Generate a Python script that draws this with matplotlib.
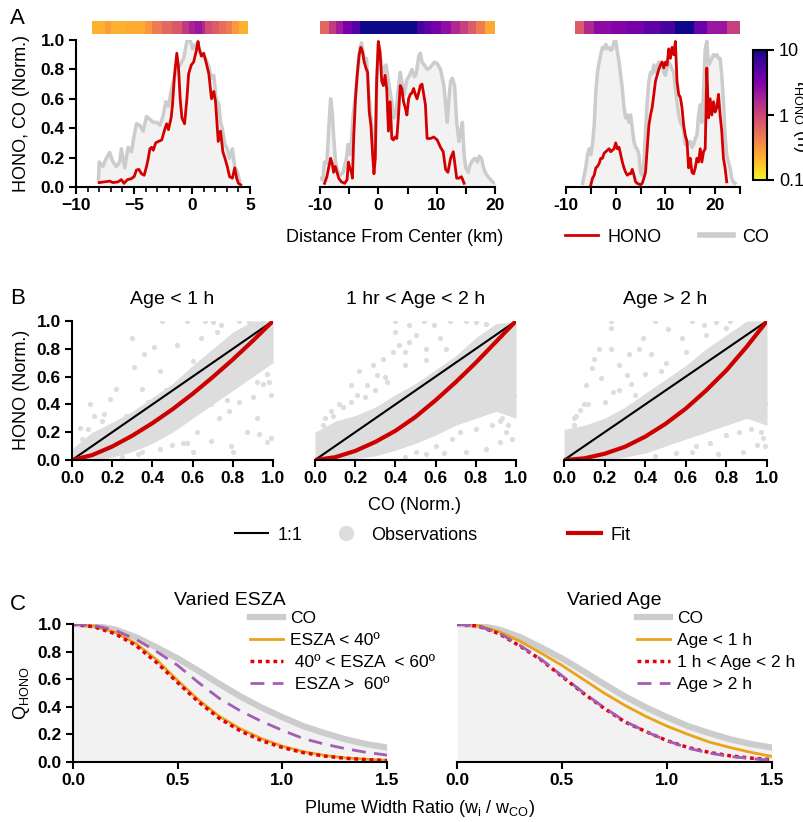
import numpy as np
import matplotlib
matplotlib.use('Agg')
import matplotlib.pyplot as plt
from matplotlib.colors import LogNorm
from matplotlib.cm import ScalarMappable
from matplotlib.lines import Line2D

plt.rcParams['font.family'] = ['Liberation Sans', 'DejaVu Sans']
plt.rcParams['mathtext.fontset'] = 'custom'
plt.rcParams['mathtext.rm'] = 'Liberation Sans'
plt.rcParams['mathtext.it'] = 'Liberation Sans:italic'

# ---------------- panel A: transects ----------------
a1_co_x = [-8.06, -8.0, -7.68, -7.39, -7.10, -6.81, -6.52, -6.23, -6.09, -5.80, -5.51, -5.22, -4.99, -4.79, -4.50,
           -4.21, -3.92, -3.63, -3.34, -3.05, -2.76, -2.47, -2.26, -2.03, -1.80, -1.60, -1.31, -1.02, -0.73, -0.44,
           -0.15, 0.05, 0.29, 0.58, 0.87, 1.16, 1.45, 1.68, 1.88, 2.08, 2.32, 2.46, 2.61, 2.84, 3.04, 3.24, 3.48,
           3.68, 3.91, 4.11]
a1_co_y = [0.05, 0.17, 0.14, 0.195, 0.235, 0.17, 0.14, 0.17, 0.26, 0.13, 0.27, 0.24, 0.35, 0.43, 0.42,
           0.38, 0.48, 0.46, 0.44, 0.44, 0.42, 0.49, 0.58, 0.55, 0.65, 0.72, 0.81, 0.83, 0.875, 0.99,
           1.0, 0.94, 0.97, 0.93, 0.90, 0.875, 0.82, 0.74, 0.76, 0.60, 0.56, 0.44, 0.40, 0.29, 0.26, 0.195, 0.26,
           0.14, 0.10, 0.04]
a1_hono_x = [-8.0, -7.54, -7.10, -6.81, -6.38, -6.09, -5.86, -5.57, -5.28, -4.99, -4.79, -4.58, -4.35, -4.12, -3.92,
             -3.77, -3.63, -3.48, -3.34, -3.13, -2.90, -2.61, -2.32, -2.18, -2.03, -1.80, -1.68, -1.51, -1.31, -1.16,
             -1.02, -0.87, -0.64, -0.44, -0.29, -0.06, 0.14, 0.35, 0.52, 0.63, 0.81, 1.01, 1.21, 1.45, 1.68, 1.88,
             2.03, 2.26, 2.46, 2.66, 2.84, 3.04, 3.24, 3.48, 3.68, 3.85, 4.00, 4.20]
a1_hono_y = [0.03, 0.035, 0.04, 0.03, 0.035, 0.05, 0.025, 0.05, 0.055, 0.07, 0.115, 0.12, 0.09, 0.08, 0.14,
             0.195, 0.26, 0.27, 0.25, 0.30, 0.31, 0.32, 0.40, 0.43, 0.39, 0.47, 0.56, 0.76, 0.91, 0.81,
             0.60, 0.47, 0.43, 0.60, 0.77, 0.83, 0.85, 0.92, 0.99, 0.94, 0.89, 0.91, 0.85, 0.77, 0.60, 0.65,
             0.58, 0.31, 0.38, 0.24, 0.195, 0.14, 0.07, 0.06, 0.13, 0.06, 0.025, 0.015]

a2_co_x = [-10.0, -9.51, -9.22, -8.82, -8.47, -8.18, -7.90, -7.67, -7.32, -6.92, -6.51, -6.05, -5.48, -5.19, -4.90,
           -4.61, -4.32, -3.86, -3.46, -3.17, -2.88, -2.59, -2.31, -2.02, -1.73, -1.44, -1.15, -0.86, -0.58, -0.29,
           0.0, 0.29, 0.58, 0.86, 1.33, 1.73, 2.02, 2.31, 2.71, 3.05, 3.46, 3.75, 4.03, 4.44, 4.90, 5.36, 5.76,
           6.17, 6.51, 6.92, 7.20, 7.49, 7.90, 8.36, 8.82, 9.22, 9.63, 10.09, 10.66, 11.24, 11.53, 11.82, 12.10,
           12.39, 12.68, 13.08, 13.43, 13.83, 14.12, 14.41, 14.70, 14.99, 15.39, 15.73, 16.14, 16.54, 17.00, 17.29,
           17.69, 18.04, 18.44, 19.02, 19.60, 20.06]
a2_co_y = [0.06, 0.05, 0.17, 0.16, 0.42, 0.60, 0.51, 0.35, 0.17, 0.10, 0.08, 0.10, 0.195, 0.29, 0.22,
           0.31, 0.49, 0.65, 0.83, 0.94, 0.98, 0.91, 0.85, 0.875, 0.67, 0.56, 0.42, 0.22, 0.195, 0.72,
           0.97, 0.90, 0.83, 0.78, 0.83, 0.72, 0.65, 0.58, 0.47, 0.51, 0.69, 0.78, 0.72, 0.63, 0.73, 0.76, 0.80,
           0.75, 0.77, 0.89, 0.91, 0.85, 0.83, 0.80, 0.81, 0.83, 0.85, 0.84, 0.80, 0.69, 0.56, 0.44, 0.60,
           0.72, 0.74, 0.69, 0.44, 0.31, 0.38, 0.44, 0.22, 0.13, 0.10, 0.15, 0.18, 0.195, 0.17, 0.21,
           0.195, 0.13, 0.09, 0.06, 0.035, 0.025]
a2_hono_x = [-9.22, -8.82, -8.47, -8.18, -7.90, -7.67, -7.38, -7.09, -6.80, -6.34, -5.76, -5.36, -5.13, -4.90, -4.61,
             -4.44, -4.21, -3.92, -3.63, -3.29, -3.00, -2.71, -2.42, -2.13, -1.84, -1.56, -1.27, -0.98, -0.75, -0.52,
             -0.29, 0.0, 0.29, 0.58, 0.86, 1.15, 1.44, 1.73, 2.02, 2.31, 2.59, 2.88, 3.17, 3.46, 3.75, 4.03, 4.32,
             4.61, 4.90, 5.19, 5.48, 5.76, 6.05, 6.34, 6.63, 6.92, 7.20, 7.49, 7.78, 8.07, 8.36, 8.93, 9.51, 10.09,
             10.66, 11.12, 11.53, 11.93, 12.39, 12.85, 13.08, 13.43, 13.83, 14.24, 14.47, 14.70]
a2_hono_y = [0.025, 0.07, 0.14, 0.195, 0.16, 0.10, 0.14, 0.10, 0.06, 0.035, 0.025, 0.05, 0.17, 0.13, 0.10,
             0.06, 0.35, 0.60, 0.76, 0.90, 0.95, 0.92, 0.85, 0.81, 0.78, 0.51, 0.42, 0.22, 0.09, 0.195,
             0.72, 0.99, 0.92, 0.72, 0.69, 0.76, 0.67, 0.38, 0.58, 0.33, 0.32, 0.34, 0.33, 0.49, 0.69, 0.67, 0.58,
             0.54, 0.49, 0.60, 0.63, 0.64, 0.67, 0.63, 0.60, 0.64, 0.69, 0.70, 0.63, 0.56, 0.33, 0.33, 0.34, 0.32,
             0.27, 0.24, 0.12, 0.10, 0.195, 0.24, 0.17, 0.06, 0.06, 0.07, 0.05, 0.025]

a3_co_x = [-6.67, -6.33, -6.0, -5.67, -5.33, -5.0, -4.67, -4.33, -4.0, -3.67, -3.33, -3.0, -2.67, -2.33, -2.0,
           -1.67, -1.33, -1.0, -0.67, -0.33, 0.0, 0.33, 0.67, 1.0, 1.33, 1.67, 2.0, 2.33, 2.67, 3.0, 3.33, 3.67,
           4.0, 4.33, 4.67, 5.0, 5.33, 5.67, 6.0, 6.33, 6.67, 7.0, 7.33, 7.67, 8.0, 8.33, 8.67, 9.0, 9.33, 9.67,
           10.0, 10.33, 10.67, 11.0, 11.33, 11.67, 12.0, 12.33, 12.67, 13.0, 13.33, 13.67, 14.0, 14.33, 14.67,
           15.0, 15.33, 15.67, 16.0, 16.33, 16.67, 17.0, 17.33, 17.67, 18.0, 18.33, 18.67, 19.0, 19.33, 19.67,
           20.0, 20.33, 20.67, 21.0, 21.33, 21.67, 22.0, 22.33, 22.67, 23.0, 23.33, 23.67, 24.0]
a3_co_y = [0.025, 0.08, 0.14, 0.22, 0.26, 0.22, 0.29, 0.42, 0.65, 0.78, 0.85, 0.90, 0.95, 0.94, 0.97,
           0.94, 0.95, 0.93, 0.94, 0.99, 1.0, 0.92, 0.85, 0.76, 0.67, 0.54, 0.47, 0.49, 0.44, 0.49, 0.40, 0.31,
           0.27, 0.26, 0.22, 0.10, 0.08, 0.17, 0.38, 0.58, 0.72, 0.78, 0.77, 0.83, 0.78, 0.82, 0.85, 0.84, 0.85, 0.78,
           0.76, 0.81, 0.85, 0.83, 0.80, 0.78, 0.67, 0.58, 0.49, 0.44, 0.42, 0.38, 0.29, 0.31, 0.29,
           0.31, 0.27, 0.29, 0.33, 0.35, 0.49, 0.56, 0.44, 0.65, 0.94, 0.99, 0.83, 0.85, 0.875, 0.90,
           0.89, 0.90, 0.875, 0.875, 0.76, 0.58, 0.35, 0.22, 0.17, 0.13, 0.06, 0.035, 0.025]
a3_hono_x = [-5.0, -4.67, -4.33, -4.0, -3.67, -3.33, -3.0, -2.67, -2.33, -2.0, -1.67, -1.33, -1.0, -0.67, -0.33,
             0.0, 0.33, 0.67, 1.0, 1.33, 1.67, 2.0, 2.33, 2.67, 3.0, 3.33, 3.67, 4.0, 4.33, 5.0, 5.33, 5.67, 6.0,
             6.33, 6.67, 7.0, 7.33, 7.67, 8.0, 8.33, 8.67, 9.0, 9.33, 9.67, 10.0, 10.33, 10.67, 11.0, 11.33, 11.67,
             12.0, 12.33, 12.67, 13.0, 13.33, 13.67, 14.0, 14.33, 14.67, 15.0, 15.33, 15.67, 16.0, 16.33, 16.67,
             17.0, 17.33, 17.67, 18.0, 18.33, 18.67, 19.0, 19.33, 19.67, 20.0, 20.33, 20.67, 21.0, 21.33, 21.67,
             22.0, 22.33]
a3_hono_y = [0.015, 0.06, 0.08, 0.13, 0.14, 0.16, 0.195, 0.195, 0.23, 0.24, 0.25, 0.26, 0.24, 0.25, 0.26,
             0.30, 0.26, 0.27, 0.22, 0.17, 0.13, 0.10, 0.08, 0.09, 0.09, 0.12, 0.08, 0.035, 0.025, 0.015, 0.025, 0.06, 0.10,
             0.26, 0.42, 0.49, 0.54, 0.63, 0.72, 0.76, 0.80, 0.83, 0.85, 0.81, 0.85, 0.83, 0.94, 0.875, 0.95, 0.90,
             0.99, 0.72, 0.63, 0.61, 0.54, 0.42, 0.35, 0.31, 0.13, 0.195, 0.10, 0.09, 0.13, 0.195, 0.17,
             0.26, 0.17, 0.24, 0.26, 0.81, 0.47, 0.60, 0.49, 0.58, 0.51, 0.54, 0.63, 0.49, 0.38, 0.195,
             0.13, 0.035]

# HONO lifetime strips (h)
strip1_edges = [-8.64, -7.54, -6.96, -5.80, -4.06, -3.48, -2.61, -1.74, -0.87, -0.29, 0.29, 0.87, 1.16, 1.74,
                2.32, 2.90, 3.48, 4.06, 4.84]
strip1_tau = [0.22, 0.28, 0.22, 0.24, 0.3, 0.45, 0.6, 0.75, 1.2, 1.8, 2.2, 1.6, 0.9, 0.7, 0.55, 0.45, 0.3, 0.22]
strip2_edges = [-10.0, -8.4, -7.2, -6.0, -4.6, -3.2, 6.6, 7.8, 9.0, 10.7, 12.4, 14.0, 15.3, 16.7, 18.2, 20.2]
strip2_tau = [0.6, 1.2, 2.0, 3.5, 5.0, 10.0, 6.0, 4.5, 3.5, 2.5, 1.6, 1.1, 0.7, 0.45, 0.25]
strip3_edges = [-8.2, -6.33, -4.33, -1.0, 2.33, 5.67, 9.0, 12.0, 15.67, 18.33, 22.33, 25.0]
strip3_tau = [0.7, 1.6, 2.6, 3.0, 3.5, 4.5, 6.0, 10.0, 4.0, 2.2, 1.1]

# ---------------- panel B: scatter ----------------
b_grid = [0.0, 0.1, 0.2, 0.3, 0.4, 0.5, 0.6, 0.7, 0.8, 0.9, 1.0]
b1_core_lo = [0.0, 0.0, 0.02, 0.06, 0.12, 0.2, 0.3, 0.4, 0.5, 0.6, 0.7]
b1_core_hi = [0.08, 0.2, 0.27, 0.35, 0.45, 0.55, 0.68, 0.8, 0.92, 1.0, 1.0]
b2_core_lo = [0.0, 0.0, 0.01, 0.03, 0.07, 0.12, 0.18, 0.25, 0.3, 0.35, 0.3]
b2_core_hi = [0.2, 0.28, 0.32, 0.38, 0.47, 0.55, 0.65, 0.75, 0.88, 0.98, 1.0]
b3_core_lo = [0.0, 0.0, 0.0, 0.02, 0.05, 0.1, 0.15, 0.2, 0.25, 0.3, 0.25]
b3_core_hi = [0.22, 0.25, 0.3, 0.38, 0.48, 0.58, 0.68, 0.8, 0.9, 1.0, 1.0]

b1_obs_x = [0.45, 0.57, 0.30, 0.31, 0.19, 0.09, 0.36, 0.41, 0.93, 0.97, 0.99, 0.92, 0.69, 0.79, 0.60, 0.57,
            0.74, 0.83, 0.98, 0.99, 0.44, 0.52, 0.64, 0.72, 0.44, 0.35, 0.27, 0.19, 0.50, 0.80, 0.87, 0.98,
            0.27, 0.11, 0.04, 0.22, 0.35, 0.60, 0.69, 0.87, 0.92, 0.77, 0.66, 0.70, 0.88, 0.95,
            0.05, 0.08, 0.15, 0.12, 0.25, 0.33, 0.38, 0.47, 0.55, 0.62, 0.58, 0.66, 0.73, 0.78, 0.83, 0.86,
            0.90, 0.95, 0.97, 0.16]
b1_obs_y = [1.0, 1.0, 0.88, 0.67, 0.44, 0.40, 0.76, 0.81, 0.19, 0.13, 0.16, 0.30, 0.14, 0.10, 0.06, 0.12,
            0.97, 1.0, 0.83, 0.47, 0.64, 0.83, 0.88, 0.92, 0.08, 0.06, 0.16, 0.11, 0.11, 0.06, 0.20, 0.56,
            0.32, 0.32, 0.23, 0.51, 0.51, 0.71, 0.40, 0.76, 0.56, 0.43, 1.0, 0.99, 0.99, 0.99,
            0.15, 0.22, 0.28, 0.05, 0.02, 0.04, 0.42, 0.50, 0.12, 0.20, 0.62, 0.72, 0.30, 0.35, 0.42, 0.90,
            0.45, 0.55, 0.62, 0.33]
b2_obs_x = [0.40, 0.54, 0.40, 0.42, 0.47, 0.45, 0.34, 0.29, 0.22, 0.18, 0.21, 0.31, 0.36, 0.26, 0.12, 0.09,
            0.04, 0.59, 0.67, 0.75, 0.50, 0.98, 0.99, 0.95, 0.92, 0.85, 0.75, 0.64, 0.55, 0.98, 0.47, 0.39,
            0.55, 0.62, 0.92, 0.80, 0.85,
            0.05, 0.08, 0.14, 0.18, 0.25, 0.30, 0.45, 0.50, 0.60, 0.68, 0.72, 0.80, 0.88, 0.93, 0.96, 0.98,
            0.35, 0.45, 0.55, 0.65]
b2_obs_y = [1.0, 1.0, 0.92, 0.83, 0.85, 0.78, 0.73, 0.68, 0.64, 0.54, 0.47, 0.61, 0.56, 0.54, 0.40, 0.32,
            0.25, 0.97, 1.0, 1.0, 0.90, 0.35, 0.47, 0.20, 0.13, 0.08, 0.06, 0.05, 0.04, 0.54, 0.97, 0.78,
            0.80, 0.88, 0.28, 0.99, 0.98,
            0.30, 0.35, 0.38, 0.42, 0.45, 0.50, 0.02, 0.06, 0.10, 0.15, 0.20, 0.22, 0.25, 0.30, 0.25, 0.15,
            0.60, 0.68, 0.72, 0.80]
b3_obs_x = [0.23, 0.23, 0.45, 0.51, 0.39, 0.17, 0.23, 0.15, 0.37, 0.14, 0.11, 0.18, 0.27, 0.31, 0.10, 0.06,
            0.05, 0.63, 0.69, 0.58, 0.43, 0.98, 0.95, 0.88, 0.76, 0.63, 0.98, 0.99, 0.35, 0.24, 0.48, 0.32,
            0.75, 0.82,
            0.05, 0.08, 0.12, 0.20, 0.27, 0.33, 0.40, 0.50, 0.60, 0.55, 0.65, 0.72, 0.80, 0.86, 0.92, 0.97,
            0.99, 0.45, 0.70, 0.80]
b3_obs_y = [1.0, 0.95, 1.0, 0.94, 0.88, 0.80, 0.80, 0.73, 0.80, 0.66, 0.54, 0.59, 0.68, 0.61, 0.40, 0.32,
            0.25, 1.0, 0.97, 0.88, 0.76, 0.16, 0.11, 0.06, 0.04, 0.06, 0.28, 0.40, 0.47, 0.49, 0.64, 0.76,
            0.99, 1.0,
            0.30, 0.36, 0.40, 0.42, 0.50, 0.55, 0.62, 0.70, 0.78, 0.05, 0.10, 0.12, 0.18, 0.20, 0.22, 0.20,
            0.10, 0.03, 0.90, 0.95]

b1_fit = [0.0, 0.035, 0.097, 0.175, 0.265, 0.365, 0.476, 0.596, 0.723, 0.858, 1.0]
b2_fit = [0.0, 0.02, 0.065, 0.13, 0.21, 0.31, 0.43, 0.56, 0.70, 0.85, 1.0]
b3_fit = [0.0, 0.012, 0.045, 0.095, 0.168, 0.26, 0.37, 0.50, 0.645, 0.815, 1.0]
b_titles = ['Age < 1 h', '1 hr < Age < 2 h', 'Age > 2 h']

# ---------------- panel C: width ratio ----------------
c_x = [0.0, 0.1, 0.2, 0.3, 0.4, 0.5, 0.6, 0.7, 0.8, 0.9, 1.0, 1.1, 1.2, 1.3, 1.4, 1.5]
c_co = [1.0, 0.99, 0.96, 0.905, 0.83, 0.75, 0.66, 0.565, 0.475, 0.395, 0.325, 0.26, 0.21, 0.165, 0.13, 0.105]
c_esza_lt40 = [1.0, 0.985, 0.94, 0.86, 0.74, 0.59, 0.45, 0.33, 0.24, 0.17, 0.115, 0.075, 0.048, 0.03, 0.02, 0.012]
c_esza_40_60 = [1.0, 0.98, 0.93, 0.845, 0.72, 0.575, 0.435, 0.315, 0.225, 0.155, 0.105, 0.068, 0.043, 0.027, 0.017, 0.01]
c_esza_gt60 = [1.0, 0.99, 0.955, 0.89, 0.80, 0.70, 0.575, 0.46, 0.37, 0.295, 0.23, 0.17, 0.13, 0.097, 0.07, 0.05]
c_age_lt1 = [1.0, 0.99, 0.945, 0.875, 0.79, 0.70, 0.60, 0.50, 0.41, 0.33, 0.26, 0.20, 0.145, 0.105, 0.07, 0.04]
c_age_1_2 = [1.0, 0.985, 0.93, 0.84, 0.74, 0.62, 0.50, 0.39, 0.29, 0.22, 0.155, 0.105, 0.07, 0.045, 0.028, 0.017]
c_age_gt2 = [1.0, 0.985, 0.935, 0.845, 0.745, 0.625, 0.505, 0.395, 0.295, 0.22, 0.155, 0.10, 0.065, 0.04, 0.025, 0.012]

W, H = 804, 822
fig = plt.figure(figsize=(W / 100, H / 100), dpi=100)


def box(x0, x1, y_top, y_bot):
    return [x0 / W, 1 - y_bot / H, (x1 - x0) / W, (y_bot - y_top) / H]


def style(ax, left=True):
    ax.spines['top'].set_visible(False)
    ax.spines['right'].set_visible(False)
    ax.spines['left'].set_linewidth(1.5)
    ax.spines['bottom'].set_linewidth(1.5)
    ax.tick_params(which='major', width=1.5, length=5, labelsize=12.5, pad=3)
    ax.tick_params(which='minor', width=1.2, length=3.5)
    if not left:
        ax.spines['left'].set_visible(False)
        ax.tick_params(axis='y', which='both', left=False, labelleft=False)


def key(handle, label, x, y):
    # single legend entry placed at pixel position (x = handle start)
    fig.legend([handle], [label], loc='center left', bbox_to_anchor=(x / W, 1 - y / H), frameon=False,
               fontsize=13, handlelength=1.85, handletextpad=0.5, borderpad=0, borderaxespad=0)


GRAY = '#cccccc'
FILL = '#f2f2f2'
RED = '#d40000'
norm = LogNorm(0.1, 10)
cmap = 'plasma_r'

# ----- A -----
a_data = [(a1_co_x, a1_co_y, a1_hono_x, a1_hono_y, strip1_edges, strip1_tau, (-10, 5)),
          (a2_co_x, a2_co_y, a2_hono_x, a2_hono_y, strip2_edges, strip2_tau, (-10, 20)),
          (a3_co_x, a3_co_y, a3_hono_x, a3_hono_y, strip3_edges, strip3_tau, (-10, 25))]
a_pos = [(76, 250), (320, 495), (566, 740)]
for i, (cx, cy, hx, hy, se, st, xl) in enumerate(a_data):
    x0, x1 = a_pos[i]
    ax = fig.add_axes(box(x0, x1, 40, 187))
    ax.fill_between(cx, cy, 0, color=FILL, lw=0)
    ax.plot(cx, cy, color=GRAY, lw=2.5)
    ax.plot(hx, hy, color=RED, lw=2)
    ax.set_xlim(*xl)
    ax.set_ylim(0, 1)
    style(ax, left=(i == 0))
    if i == 0:
        ax.set_xticks([-10, -5, 0, 5])
        ax.set_xticks(np.arange(-10, 6, 1), minor=True)
        ax.set_yticks([0, 0.2, 0.4, 0.6, 0.8, 1.0])
        ax.set_yticklabels(['0.0', '0.2', '0.4', '0.6', '0.8', '1.0'])
    else:
        ticks = np.arange(xl[0], xl[1] + 1, 5)
        ax.set_xticks(ticks)
        ax.set_xticklabels([str(t) if t % 10 == 0 else '' for t in ticks])
    sx = fig.add_axes(box(x0, x1, 21, 34))
    sx.pcolormesh(se, [0, 1], [st], cmap=cmap, norm=norm)
    sx.set_xlim(*xl)
    sx.axis('off')

cax = fig.add_axes(box(753, 767, 50, 180))
cb = fig.colorbar(ScalarMappable(norm=norm, cmap=cmap), cax=cax)
cb.set_ticks([0.1, 1, 10])
cb.set_ticklabels(['0.1', '1', '10'])
cb.ax.minorticks_off()
cb.ax.tick_params(labelsize=13, width=1.5, length=5)
cb.outline.set_linewidth(1.5)
fig.text(0.997, 1 - 115 / H, r'$\tau_{\mathrm{HONO}}$ (h)', rotation=270, ha='center', va='center', fontsize=13)

fig.text(395 / W, 1 - 237 / H, 'Distance From Center (km)', ha='center', va='center', fontsize=13)
fig.text(22 / W, 1 - 113 / H, 'HONO, CO (Norm.)', rotation=90, ha='center', va='center', fontsize=13)
key(Line2D([], [], color=RED, lw=2), 'HONO', 565, 237)
key(Line2D([], [], color=GRAY, lw=4), 'CO', 700, 237)

# ----- B -----
b_sets = [(b1_core_lo, b1_core_hi, b1_obs_x, b1_obs_y, b1_fit),
          (b2_core_lo, b2_core_hi, b2_obs_x, b2_obs_y, b2_fit),
          (b3_core_lo, b3_core_hi, b3_obs_x, b3_obs_y, b3_fit)]
b_pos = [(72, 273), (315, 516), (564, 767)]
for i, (lo, hi, ox, oy, fit) in enumerate(b_sets):
    x0, x1 = b_pos[i]
    ax = fig.add_axes(box(x0, x1, 321, 460))
    ax.fill_between(b_grid, lo, hi, color='#dddddd', lw=0)
    ax.scatter(ox, oy, s=14, color='#dddddd', lw=0)
    ax.plot([0, 1], [0, 1], color='black', lw=1.5)
    ax.plot(b_grid, fit, color='#cc0000', lw=3)
    ax.set_xlim(0, 1)
    ax.set_ylim(0, 1)
    ticks = [0, 0.2, 0.4, 0.6, 0.8, 1.0]
    ax.set_xticks(ticks)
    ax.set_xticklabels(['0.0', '0.2', '0.4', '0.6', '0.8', '1.0'])
    ax.set_yticks(ticks)
    ax.set_yticklabels(['0.0', '0.2', '0.4', '0.6', '0.8', '1.0'])
    style(ax, left=(i == 0))
    ax.set_title(b_titles[i], fontsize=14, pad=12)

fig.text(415 / W, 1 - 505 / H, 'CO (Norm.)', ha='center', va='center', fontsize=13)
fig.text(22 / W, 1 - 390 / H, 'HONO (Norm.)', rotation=90, ha='center', va='center', fontsize=13)
key(Line2D([], [], color='black', lw=1.5), '1:1', 235, 535)
key(Line2D([], [], ls='none', marker='o', ms=10, color='#dddddd'), 'Observations', 329, 535)
key(Line2D([], [], color='#cc0000', lw=3), 'Fit', 568, 535)

# ----- C -----
c_sets = [('Varied ESZA', [c_esza_lt40, c_esza_40_60, c_esza_gt60],
           ['ESZA < 40º', ' 40º < ESZA  < 60º', ' ESZA >  60º'], (73, 387), 250),
          ('Varied Age', [c_age_lt1, c_age_1_2, c_age_gt2],
           ['Age < 1 h', '1 h < Age < 2 h', 'Age > 2 h'], (457, 772), 637)]
c_styles = [dict(color='#e9a319', lw=2, ls='-'),
            dict(color='#e3000f', lw=2.5, ls=(0, (1.1, 1.1))),
            dict(color='#a35db5', lw=2, ls=(0, (5, 3)))]
for i, (title, curves, labels, (x0, x1), lx) in enumerate(c_sets):
    ax = fig.add_axes(box(x0, x1, 624, 762))
    ax.fill_between(c_x, c_co, 0, color=FILL, lw=0)
    h_co, = ax.plot(c_x, c_co, color=GRAY, lw=4.5, label='CO')
    handles = [h_co]
    for curve, st, lab in zip(curves, c_styles, labels):
        h, = ax.plot(c_x, curve, label=lab, **st)
        handles.append(h)
    ax.set_xlim(0, 1.5)
    ax.set_ylim(0, 1)
    ax.set_xticks([0, 0.5, 1.0, 1.5])
    ax.set_xticklabels(['0.0', '0.5', '1.0', '1.5'])
    ax.set_yticks([0, 0.2, 0.4, 0.6, 0.8, 1.0])
    ax.set_yticklabels(['0.0', '0.2', '0.4', '0.6', '0.8', '1.0'])
    style(ax, left=(i == 0))
    ax.set_title(title, fontsize=14, pad=14)
    ax.legend(handles=handles, loc='upper left', bbox_to_anchor=(lx / W, 1 - 611 / H),
              bbox_transform=fig.transFigure, frameon=False, fontsize=12.5, handlelength=1.9,
              labelspacing=0.4, handletextpad=0.4, borderpad=0, borderaxespad=0)

fig.text(420 / W, 1 - 808 / H, r'Plume Width Ratio (w$_{\mathrm{i}}$ / w$_{\mathrm{CO}}$)',
         ha='center', va='center', fontsize=13)
fig.text(22 / W, 1 - 693 / H, r'Q$_{\mathrm{HONO}}$', rotation=90, ha='center', va='center', fontsize=13)

for lab, y in [('A', 18), ('B', 298), ('C', 604)]:
    fig.text(10 / W, 1 - y / H, lab, fontsize=16, ha='left', va='center')

for ax in fig.axes:
    if ax is cax:
        continue
    for t in ax.get_xticklabels() + ax.get_yticklabels():
        t.set_fontweight('bold')

fig.savefig('out.png', dpi=100)
